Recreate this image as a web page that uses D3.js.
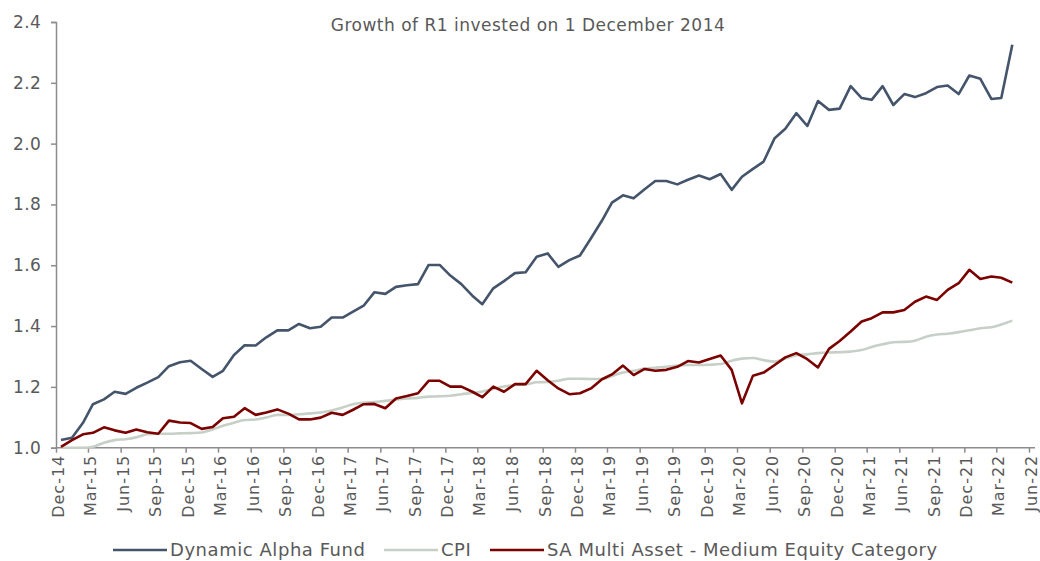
<!DOCTYPE html>
<html>
<head>
<meta charset="utf-8">
<script src="https://cdn.jsdelivr.net/npm/d3@7"></script>
<style>
    body { margin: 0; background: #fff; }
    text { font-family: "DejaVu Sans", "Open Sans", sans-serif; fill: #595959; }
</style>
</head>
<body>
<div id="chart"></div>
<script>
// month-end values, Dec-14 .. Apr-22
let firstMonth = new Date(2014, 11, 1);
let lastMonth = new Date(2022, 3, 1);
let months = d3.timeMonth.range(firstMonth, d3.timeMonth.offset(lastMonth, 1));

let seriesNames = ["Dynamic Alpha Fund", "CPI", "SA Multi Asset - Medium Equity Category"];

let dynamicAlpha = [
    1.025, 1.033, 1.082, 1.143, 1.159, 1.184, 1.177, 1.197, 1.214, 1.232,
    1.268, 1.281, 1.286, 1.259, 1.233, 1.253, 1.305, 1.337, 1.336, 1.363,
    1.386, 1.386, 1.407, 1.393, 1.398, 1.428, 1.428, 1.447, 1.467, 1.511,
    1.506, 1.529, 1.534, 1.538, 1.601, 1.601, 1.566, 1.538, 1.500, 1.472,
    1.524, 1.548, 1.574, 1.577, 1.628, 1.639, 1.595, 1.617, 1.632, 1.689,
    1.747, 1.806, 1.830, 1.820, 1.850, 1.877, 1.877, 1.866, 1.881, 1.895,
    1.883, 1.900, 1.848, 1.891, 1.917, 1.941, 2.018, 2.049, 2.100, 2.058,
    2.140, 2.111, 2.115, 2.189, 2.150, 2.144, 2.189, 2.127, 2.163, 2.153,
    2.166, 2.186, 2.191, 2.163, 2.224, 2.213, 2.147, 2.150, 2.325
];

let cpi = [
    1.000, 1.000, 1.000, 1.003, 1.016, 1.025, 1.028, 1.034, 1.044, 1.046,
    1.046, 1.047, 1.048, 1.050, 1.060, 1.072, 1.082, 1.091, 1.093, 1.099,
    1.108, 1.108, 1.110, 1.113, 1.116, 1.122, 1.132, 1.143, 1.148, 1.150,
    1.154, 1.158, 1.162, 1.164, 1.168, 1.169, 1.171, 1.176, 1.180, 1.185,
    1.193, 1.201, 1.206, 1.208, 1.215, 1.216, 1.220, 1.227, 1.227, 1.226,
    1.226, 1.236, 1.247, 1.253, 1.260, 1.263, 1.266, 1.270, 1.272, 1.272,
    1.273, 1.275, 1.286, 1.293, 1.295, 1.288, 1.283, 1.293, 1.304, 1.307,
    1.311, 1.313, 1.314, 1.316, 1.321, 1.331, 1.340, 1.347, 1.348, 1.352,
    1.365, 1.372, 1.375, 1.380, 1.386, 1.393, 1.396, 1.405, 1.418
];

let multiAsset = [
    1.003, 1.025, 1.044, 1.049, 1.067, 1.057, 1.049, 1.060, 1.051, 1.046,
    1.089, 1.083, 1.081, 1.062, 1.068, 1.097, 1.102, 1.130, 1.108, 1.116,
    1.126, 1.112, 1.093, 1.093, 1.099, 1.115, 1.108, 1.124, 1.143, 1.144,
    1.130, 1.162, 1.170, 1.179, 1.220, 1.220, 1.201, 1.201, 1.184, 1.166,
    1.201, 1.184, 1.209, 1.209, 1.253, 1.222, 1.195, 1.176, 1.179, 1.195,
    1.225, 1.241, 1.270, 1.239, 1.259, 1.253, 1.256, 1.266, 1.285, 1.280,
    1.292, 1.303, 1.256, 1.146, 1.237, 1.247, 1.272, 1.297, 1.311, 1.291,
    1.264, 1.325, 1.351, 1.382, 1.415, 1.426, 1.445, 1.445, 1.453, 1.480,
    1.497, 1.486, 1.519, 1.541, 1.585, 1.555, 1.563, 1.559, 1.543
];

let yTicks = [1.0, 1.2, 1.4, 1.6, 1.8, 2.0, 2.2, 2.4];

let width = 1040, height = 561;
let margin = {top: 22, right: 10, bottom: 113, left: 56};

let svg = d3.select("#chart").append("svg")
    .attr("width", width)
    .attr("height", height);

// x: date axis, ticks every 3 months, points mid-month
let x = d3.scaleTime()
    .domain([firstMonth, new Date(2022, 5, 1)])
    .range([margin.left, 1029]);

let y = d3.scaleLinear()
    .domain([1.0, 2.4])
    .range([height - margin.bottom - 0.3, margin.top]);

let axisColor = "#8c8c8c";

// y axis
let yAxis = d3.axisLeft(y)
    .tickValues(yTicks)
    .tickFormat(d3.format(".1f"))
    .tickSize(5)
    .tickPadding(10);

let yAxisGroup = svg.append("g")
    .attr("class", "axis y-axis")
    .attr("transform", `translate(${margin.left}, 0)`)
    .call(yAxis);

yAxisGroup.selectAll("text")
    .style("font-size", "17px")
    .style("letter-spacing", "0.3px");

// x axis
let xTickVals = d3.timeMonth.range(firstMonth, new Date(2022, 6, 1), 3);
let xAxis = d3.axisBottom(x)
    .tickValues(xTickVals)
    .tickFormat(d3.timeFormat("%b-%y"))
    .tickSize(5)
    .tickSizeOuter(0);

let xAxisGroup = svg.append("g")
    .attr("class", "axis x-axis")
    .attr("transform", `translate(0, ${y(1.0)})`)
    .call(xAxis);

xAxisGroup.select(".domain").attr("d", `M${margin.left},0H1035`);

xAxisGroup.selectAll("text")
    .style("font-size", "16px")
    .style("letter-spacing", "1px")
    .attr("text-anchor", "end")
    .attr("x", -7)
    .attr("y", 0)
    .attr("dy", "0.35em")
    .attr("transform", "rotate(-90) translate(0, 2)");

svg.selectAll(".axis path, .axis line")
    .attr("stroke", axisColor)
    .attr("stroke-width", 1.5);
svg.selectAll(".axis text").style("fill", "#595959");

// lines
let midMonth = d => d3.timeDay.offset(d, 14);

let series = [
    {name: seriesNames[0], values: dynamicAlpha, color: "#44546a", curve: d3.curveLinear},
    {name: seriesNames[1], values: cpi, color: "#c6d0c6", curve: d3.curveMonotoneX},
    {name: seriesNames[2], values: multiAsset, color: "#7b0000", curve: d3.curveLinear}
];

// draw CPI first so the other two sit on top
let drawOrder = [series[1], series[0], series[2]];

drawOrder.forEach(s => {
    let line = d3.line()
        .x((d, i) => x(midMonth(months[i])))
        .y(d => y(d))
        .curve(s.curve);

    svg.append("path")
        .datum(s.values)
        .attr("fill", "none")
        .attr("stroke", s.color)
        .attr("stroke-width", 2.6)
        .attr("stroke-linejoin", "round")
        .attr("d", line);
});

// title
svg.append("text")
    .attr("x", 528)
    .attr("y", 31)
    .attr("text-anchor", "middle")
    .style("font-size", "17px")
    .style("letter-spacing", "0.5px")
    .text("Growth of R1 invested on 1 December 2014");

// legend
let legend = svg.append("g")
    .attr("class", "legend")
    .attr("transform", "translate(0, 550)");

let legendX = [113, 384, 490];
series.forEach((s, i) => {
    legend.append("line")
        .attr("x1", legendX[i])
        .attr("x2", legendX[i] + 54)
        .attr("y1", 0)
        .attr("y2", 0)
        .attr("stroke", s.color)
        .attr("stroke-width", 2.6);
    legend.append("text")
        .attr("x", legendX[i] + 57)
        .attr("y", 0)
        .attr("dy", "0.35em")
        .style("font-size", "18px")
        .style("letter-spacing", "0.55px")
        .text(s.name);
});
</script>
</body>
</html>
